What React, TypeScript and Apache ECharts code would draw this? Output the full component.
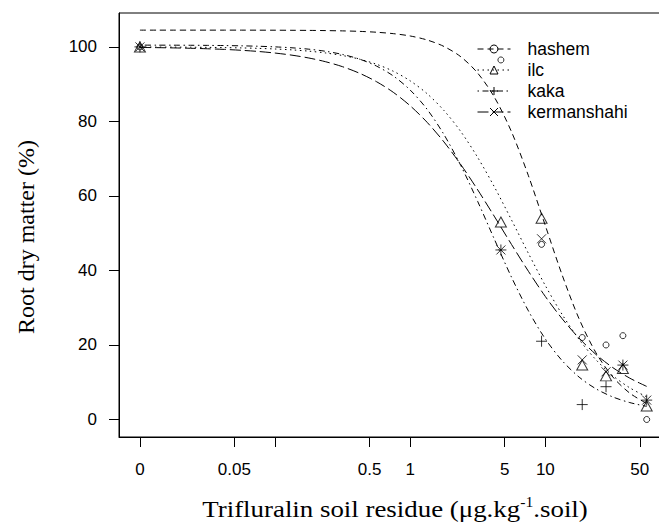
import React, { useEffect, useRef } from "react";
import * as echarts from "echarts";

// ---- data ----
const seriesNames = ["hashem", "ilc", "kaka", "kermanshahi"];

// observed points (dose in µg/kg soil; 0 is drawn at 0.01 on the log axis)
const doses = [0, 4.69, 9.38, 18.75, 28.13, 37.5, 56.25];
const hashemObs = [100, 96.5, 47, 22, 20, 22.5, 0];
const ilcObs = [100, 53, 54, 14.6, 11.7, 13.7, 3.6];
const kakaObs = [100, 45.5, 21, 4, 8.8, 14.6, 5.2];
const kermanshahiObs = [100, 45.5, 48.5, 16, 12.8, 14.6, 5.2];

// fitted dose-response curves (doses spaced 1/8 decade apart)
const curveDoses = [
  0.01, 0.0133, 0.0178, 0.0237, 0.0316, 0.0422, 0.0562, 0.075, 0.1, 0.1334, 0.1778,
  0.2371, 0.3162, 0.4217, 0.5623, 0.7499, 1, 1.334, 1.778, 2.371, 3.162, 4.217,
  5.623, 7.499, 10, 13.34, 17.78, 23.71, 31.62, 42.17, 56.23,
];
const hashemFit = [
  104.5, 104.5, 104.5, 104.5, 104.5, 104.5, 104.5, 104.49, 104.48, 104.46, 104.43,
  104.38, 104.3, 104.17, 103.94, 103.56, 102.93, 101.86, 100.12, 97.34, 92.95, 86.38,
  77.19, 65.41, 52.04, 38.72, 27.01, 17.89, 11.4, 7.07, 4.3,
];
const ilcFit = [
  99.97, 99.95, 99.94, 99.91, 99.87, 99.81, 99.73, 99.61, 99.44, 99.2, 98.86,
  98.37, 97.68, 96.71, 95.35, 93.47, 90.89, 87.44, 82.93, 77.25, 70.3, 62.29,
  53.54, 44.57, 35.94, 28.15, 21.47, 16.02, 11.74, 8.5, 6.08,
];
const kakaFit = [
  100.48, 100.47, 100.46, 100.44, 100.41, 100.36, 100.29, 100.18, 100.01, 99.76, 99.39,
  98.82, 97.97, 96.72, 94.87, 92.2, 88.42, 83.25, 76.47, 68.13, 58.48, 48.21,
  38.16, 29.14, 21.62, 15.76, 11.38, 8.23, 6.04, 4.54, 3.52,
];
const kermanshahiFit = [
  99.85, 99.8, 99.73, 99.63, 99.5, 99.33, 99.09, 98.78, 98.35, 97.78, 97.02,
  96.01, 94.68, 92.93, 90.68, 87.81, 84.19, 79.76, 74.49, 68.39, 61.61, 54.37,
  46.97, 39.77, 33.01, 27.01, 21.81, 17.45, 13.91, 11.09, 8.88,
];

// axis ticks
const xTickValues = [0, 0.05, 0.1, 0.5, 1, 5, 10, 50];
const xTickLabels = ["0", "0.05", "", "0.5", "1", "5", "10", "50"];
const yTickValues = [0, 20, 40, 60, 80, 100];

const xTitleParts = ["Trifluralin soil residue (μg.kg", "-1", ".soil)"];
const yTitle = "Root dry matter (%)";

const ZERO_DOSE = 0.01;
const toX = (d: number) => Math.log10(d > 0 ? d : ZERO_DOSE);

const SANS = "'Liberation Sans', Arial, Helvetica, sans-serif";
const SERIF = "'Liberation Serif', 'Times New Roman', Times, serif";

const obsList = [hashemObs, ilcObs, kakaObs, kermanshahiObs];
const fitList = [hashemFit, ilcFit, kakaFit, kermanshahiFit];
const dashList: number[][] = [
  [6, 4],
  [1.5, 3.5],
  [1.5, 3.5, 6, 3.5],
  [11, 4],
];
const symbolList = [
  "circle",
  "triangle",
  "path://M5,0L5,10M0,5L10,5",
  "path://M0,0L10,10M10,0L0,10",
];
const symbolSizes: any[] = [6, [11, 10], 11, 9];

export default function App() {
  const ref = useRef<HTMLDivElement>(null);

  useEffect(() => {
    if (!ref.current) return;
    const chart = echarts.init(ref.current, undefined, { renderer: "svg" });

    const markStyle = {
      color: "rgba(0,0,0,0)",
      borderColor: "#000",
      borderWidth: 1,
    };

    const lineSeries = seriesNames.map((name, i) => ({
      name,
      type: "line",
      data: curveDoses.map((d, j) => [toX(d), fitList[i][j]]),
      smooth: 0.3,
      showSymbol: false,
      symbol: symbolList[i],
      symbolSize: symbolSizes[i],
      itemStyle: markStyle,
      lineStyle: { color: "#000", width: 1, type: dashList[i] },
      z: 2,
      silent: true,
    }));

    const scatterSeries = seriesNames.map((name, i) => ({
      name,
      type: "scatter",
      data: doses.map((d, j) => [toX(d), obsList[i][j]]),
      symbol: symbolList[i],
      symbolSize: symbolSizes[i],
      itemStyle: markStyle,
      z: 3,
      silent: true,
    }));

    const nearestTick = (v: number) => {
      let best = 0;
      let bd = Infinity;
      xTickValues.forEach((t, k) => {
        const dd = Math.abs(toX(t) - v);
        if (dd < bd) {
          bd = dd;
          best = k;
        }
      });
      return best;
    };

    chart.setOption({
      animation: false,
      backgroundColor: "#fff",
      grid: {
        left: 119,
        top: 13,
        width: 547,
        height: 424,
        show: true,
        borderColor: "#000",
        borderWidth: 1,
        containLabel: false,
        outerBoundsMode: "none",
      },
      legend: {
        data: seriesNames,
        orient: "vertical",
        left: 477,
        top: 40,
        padding: 0,
        itemWidth: 33,
        itemHeight: 10,
        itemGap: 3,
        selectedMode: false,
        itemStyle: { color: "rgba(0,0,0,0)", borderColor: "#000", borderWidth: 1 },
        lineStyle: { color: "#000", width: 1 },
        textStyle: {
          fontFamily: SANS,
          fontSize: 17.5,
          color: "#000",
          lineHeight: 17,
          padding: [0, 0, 0, 12],
        },
      },
      graphic: [
        {
          type: "text",
          x: 395,
          y: 509,
          scaleX: 1.12,
          silent: true,
          style: {
            text: `{a|${xTitleParts[0]}}{s|${xTitleParts[1]}}{a|${xTitleParts[2]}}`,
            align: "center",
            verticalAlign: "middle",
            rich: {
              a: { fontFamily: SERIF, fontSize: 24, fill: "#000", lineHeight: 28 },
              s: { fontFamily: SERIF, fontSize: 14, fill: "#000", lineHeight: 28, verticalAlign: "top" },
            },
          },
        },
        {
          type: "text",
          x: 26,
          y: 237,
          rotation: Math.PI / 2,
          silent: true,
          style: {
            text: yTitle,
            align: "center",
            verticalAlign: "middle",
            fontFamily: SERIF,
            fontSize: 24,
            fill: "#000",
          },
        },
      ],
      xAxis: {
        type: "value",
        min: -2.155,
        max: 1.893,
        axisLine: { show: true, onZero: false, lineStyle: { color: "#000", width: 1 } },
        axisTick: {
          show: true,
          length: 10,
          lineStyle: { color: "#000", width: 1 },
          customValues: xTickValues.map(toX),
        },
        axisLabel: {
          customValues: xTickValues.map(toX),
          margin: 24,
          fontFamily: SANS,
          fontSize: 17,
          color: "#000",
          formatter: (v: number) => xTickLabels[nearestTick(v)],
        },
        splitLine: { show: false },
      },
      yAxis: {
        type: "value",
        min: -4.7,
        max: 109.1,
        axisLine: { show: true, onZero: false, lineStyle: { color: "#000", width: 1 } },
        axisTick: {
          show: true,
          length: 10,
          lineStyle: { color: "#000", width: 1 },
          customValues: yTickValues,
        },
        axisLabel: {
          customValues: yTickValues,
          margin: 22,
          fontFamily: SANS,
          fontSize: 17,
          color: "#000",
        },
        splitLine: { show: false },
      },
      series: [...lineSeries, ...scatterSeries],
    });

    return () => chart.dispose();
  }, []);

  return (
    <div
      style={{
        position: "absolute",
        left: 0,
        top: 0,
        width: 659,
        height: 527,
        overflow: "hidden",
        background: "#fff",
      }}
    >
      <div ref={ref} style={{ width: 680, height: 527 }} />
    </div>
  );
}
